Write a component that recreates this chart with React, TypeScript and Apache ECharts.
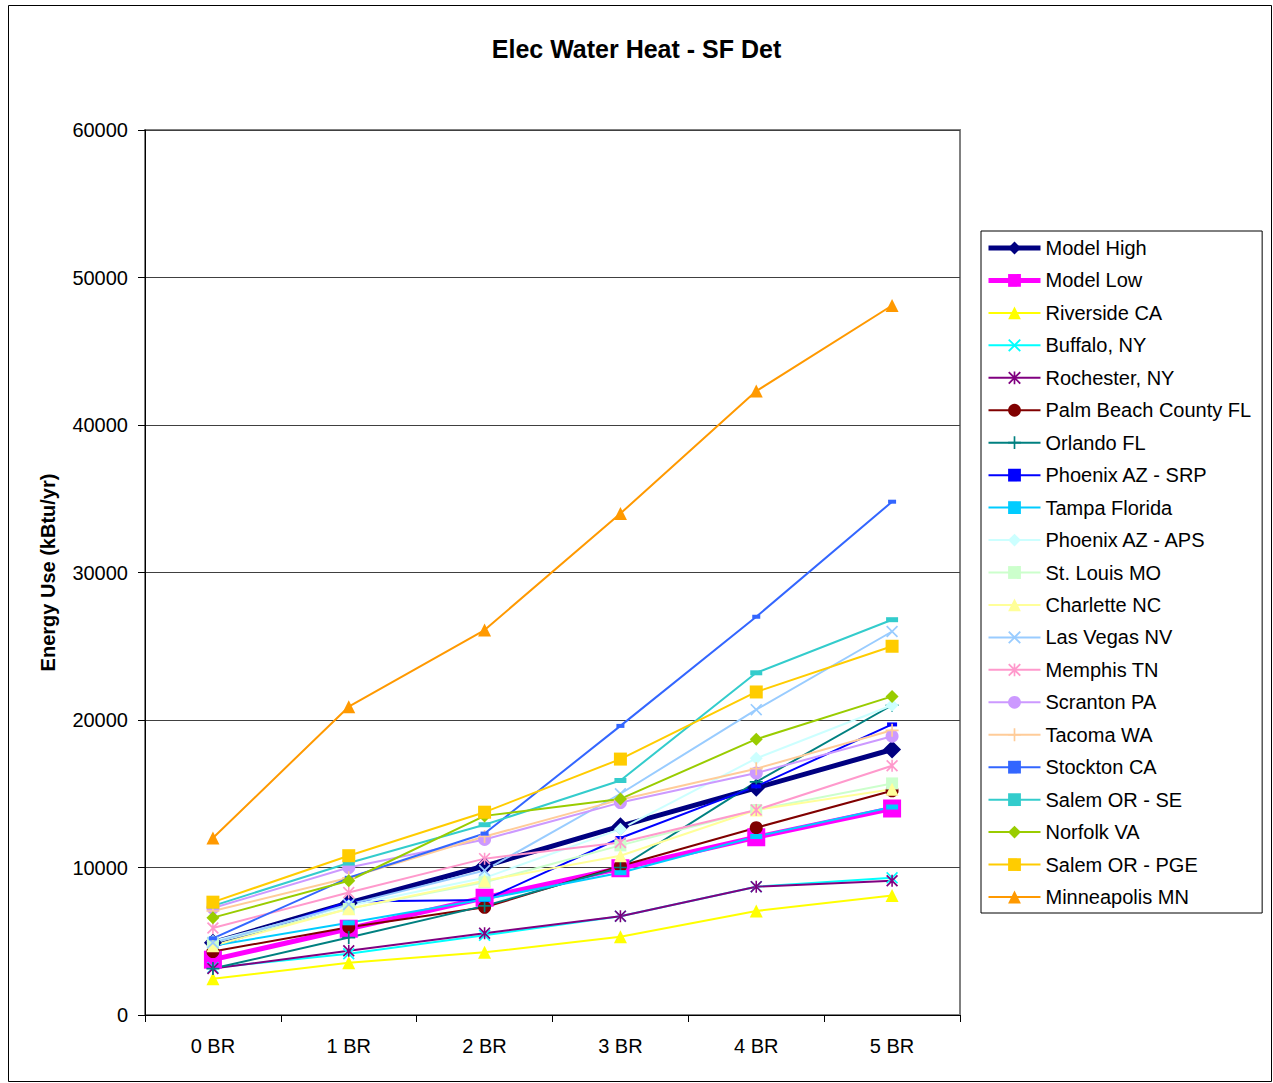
import React, { useEffect, useRef } from "react";
import * as echarts from "echarts";

const categories = ["0 BR", "1 BR", "2 BR", "3 BR", "4 BR", "5 BR"];
const yTicks = [0, 10000, 20000, 30000, 40000, 50000, 60000];

const seriesNames = [
  "Model High", "Model Low", "Riverside CA", "Buffalo, NY", "Rochester, NY",
  "Palm Beach County FL", "Orlando FL", "Phoenix AZ - SRP", "Tampa Florida",
  "Phoenix AZ - APS", "St. Louis MO", "Charlette NC", "Las Vegas NV",
  "Memphis TN", "Scranton PA", "Tacoma WA", "Stockton CA", "Salem OR - SE",
  "Norfolk VA", "Salem OR - PGE", "Minneapolis MN",
];

const modelHigh = [4900, 7600, 10100, 12800, 15400, 18000];
const modelLow = [3750, 5850, 7950, 9950, 12050, 14000];
const riverside = [2450, 3550, 4250, 5300, 7050, 8100];
const buffalo = [3200, 4150, 5400, 6700, 8700, 9300];
const rochester = [3150, 4350, 5550, 6700, 8700, 9100];
const palmBeach = [4300, 5950, 7300, 10100, 12700, 15200];
const orlando = [3150, 5250, 7400, 10000, 15800, 21000];
const phoenixSRP = [4600, 7700, 7800, 12000, 15500, 19700];
const tampa = [4700, 6250, 7850, 9650, 12100, 14100];
const phoenixAPS = [5000, 7400, 9300, 12600, 17400, 21000];
const stLouis = [4900, 7200, 9000, 11500, 13900, 15700];
const charlette = [4700, 7200, 9100, 10800, 13900, 15300];
const lasVegas = [4900, 7500, 9800, 15000, 20700, 26000];
const memphis = [5900, 8300, 10600, 11700, 13900, 16900];
const scranton = [7250, 10000, 11900, 14400, 16400, 18900];
const tacoma = [7050, 9300, 12100, 14600, 16700, 19300];
const stockton = [5200, 9300, 12300, 19600, 27000, 34800];
const salemSE = [7400, 10300, 12900, 15900, 23200, 26800];
const norfolk = [6600, 9100, 13500, 14650, 18700, 21600];
const salemPGE = [7650, 10800, 13750, 17350, 21900, 25000];
const minneapolis = [12000, 20900, 26100, 34000, 42300, 48100];

const seriesData = [
  modelHigh, modelLow, riverside, buffalo, rochester, palmBeach, orlando,
  phoenixSRP, tampa, phoenixAPS, stLouis, charlette, lasVegas, memphis,
  scranton, tacoma, stockton, salemSE, norfolk, salemPGE, minneapolis,
];

const X_SYM =
  "path://M0,1 L1,0 L5,4 L9,0 L10,1 L6,5 L10,9 L9,10 L5,6 L1,10 L0,9 L4,5 Z";
const STAR_SYM =
  "path://M0,1 L1,0 L5,4 L9,0 L10,1 L6,5 L10,9 L9,10 L5,6 L1,10 L0,9 L4,5 Z M4.35,0 L5.65,0 L5.65,10 L4.35,10 Z";
const PLUS_SYM =
  "path://M4.35,0 L5.65,0 L5.65,4.35 L10,4.35 L10,5.65 L5.65,5.65 L5.65,10 L4.35,10 L4.35,5.65 L0,5.65 L0,4.35 L4.35,4.35 Z";

const styles: { color: string; width: number; symbol: string; size: any }[] = [
  { color: "#000080", width: 5, symbol: "diamond", size: 18 },
  { color: "#FF00FF", width: 5, symbol: "rect", size: 18 },
  { color: "#FFFF00", width: 2, symbol: "triangle", size: 13 },
  { color: "#00FFFF", width: 2, symbol: X_SYM, size: 12 },
  { color: "#800080", width: 2, symbol: STAR_SYM, size: 12 },
  { color: "#800000", width: 2, symbol: "circle", size: 13 },
  { color: "#008080", width: 2, symbol: PLUS_SYM, size: 13 },
  { color: "#0000FF", width: 2, symbol: "rect", size: [10, 4] },
  { color: "#00CCFF", width: 2, symbol: "rect", size: [12, 5] },
  { color: "#CCFFFF", width: 2, symbol: "diamond", size: 13 },
  { color: "#CCFFCC", width: 2, symbol: "rect", size: 12 },
  { color: "#FFFF99", width: 2, symbol: "triangle", size: 13 },
  { color: "#99CCFF", width: 2, symbol: X_SYM, size: 12 },
  { color: "#FF99CC", width: 2, symbol: STAR_SYM, size: 12 },
  { color: "#CC99FF", width: 2, symbol: "circle", size: 13 },
  { color: "#FFCC99", width: 2, symbol: PLUS_SYM, size: 13 },
  { color: "#3366FF", width: 2, symbol: "rect", size: [8, 4] },
  { color: "#33CCCC", width: 2, symbol: "rect", size: [12, 5] },
  { color: "#99CC00", width: 2, symbol: "diamond", size: 13 },
  { color: "#FFCC00", width: 2, symbol: "rect", size: 13 },
  { color: "#FF9900", width: 2, symbol: "triangle", size: 13 },
];

const FONT = "'Liberation Sans', Arial, sans-serif";

export default function App() {
  const ref = useRef<HTMLDivElement>(null);
  useEffect(() => {
    if (!ref.current) return;
    const chart = echarts.init(ref.current, undefined, { renderer: "svg" });
    const series = seriesNames.map((name, i) => ({
      name,
      type: "line",
      data: seriesData[i],
      symbol: styles[i].symbol,
      symbolSize: styles[i].size,
      showAllSymbol: true,
      color: styles[i].color,
      lineStyle: { color: styles[i].color, width: styles[i].width },
      itemStyle: { color: styles[i].color, borderWidth: 0 },
      emphasis: { disabled: true },
    }));
    chart.setOption({
      animation: false,
      backgroundColor: "#ffffff",
      textStyle: { fontFamily: FONT, color: "#000" },
      title: {
        text: "Elec Water Heat - SF Det",
        left: "center",
        top: 31,
        textStyle: { fontFamily: FONT, fontSize: 25, fontWeight: "bold", color: "#000" },
      },
      graphic: [
        {
          type: "rect",
          shape: { x: 8.5, y: 5.5, width: 1263, height: 1076 },
          style: { fill: "none", stroke: "#000", lineWidth: 1 },
          silent: true,
        },
      ],
      legend: {
        orient: "vertical",
        left: 981,
        top: 231,
        padding: [7, 11, 6, 5],
        itemWidth: 52,
        itemHeight: 16,
        itemGap: 12.45,
        borderColor: "#000",
        borderWidth: 1,
        backgroundColor: "#fff",
        selectedMode: false,
        lineStyle: { width: "inherit" },
        data: seriesNames.map((name, i) => ({
          name,
          lineStyle: { width: styles[i].width },
        })),
        textStyle: { fontFamily: FONT, fontSize: 20, color: "#000", lineHeight: 20, padding: [0, 0, 0, 0] },
      },
      grid: {
        left: 145,
        right: 313,
        top: 130,
        bottom: 68,
        show: true,
        borderColor: "#808080",
        borderWidth: 2,
        backgroundColor: "transparent",
      },
      xAxis: {
        type: "category",
        data: categories,
        boundaryGap: true,
        axisLine: { lineStyle: { color: "#000", width: 1 } },
        axisTick: { show: true, inside: false, length: 7, alignWithLabel: false, lineStyle: { color: "#000" } },
        axisLabel: { fontFamily: FONT, fontSize: 20, color: "#000", margin: 21 },
        splitLine: { show: false },
      },
      yAxis: {
        type: "value",
        min: 0,
        max: 60000,
        interval: 10000,
        name: "Energy Use (kBtu/yr)",
        nameLocation: "middle",
        nameGap: 87,
        nameTextStyle: { fontFamily: FONT, fontSize: 20, fontWeight: "bold", color: "#000" },
        axisLine: { show: true, lineStyle: { color: "#000", width: 1 } },
        axisTick: { show: true, inside: false, length: 7, lineStyle: { color: "#000" } },
        axisLabel: {
          fontFamily: FONT,
          fontSize: 20,
          color: "#000",
          margin: 17,
          formatter: (v: number) => (yTicks.includes(v) ? String(v) : ""),
        },
        splitLine: { show: true, lineStyle: { color: "#404040", width: 1 } },
      },
      series,
    });
    return () => chart.dispose();
  }, []);
  return (
    <div
      ref={ref}
      style={{ position: "fixed", left: 0, top: 0, width: 1273, height: 1083 }}
    />
  );
}
